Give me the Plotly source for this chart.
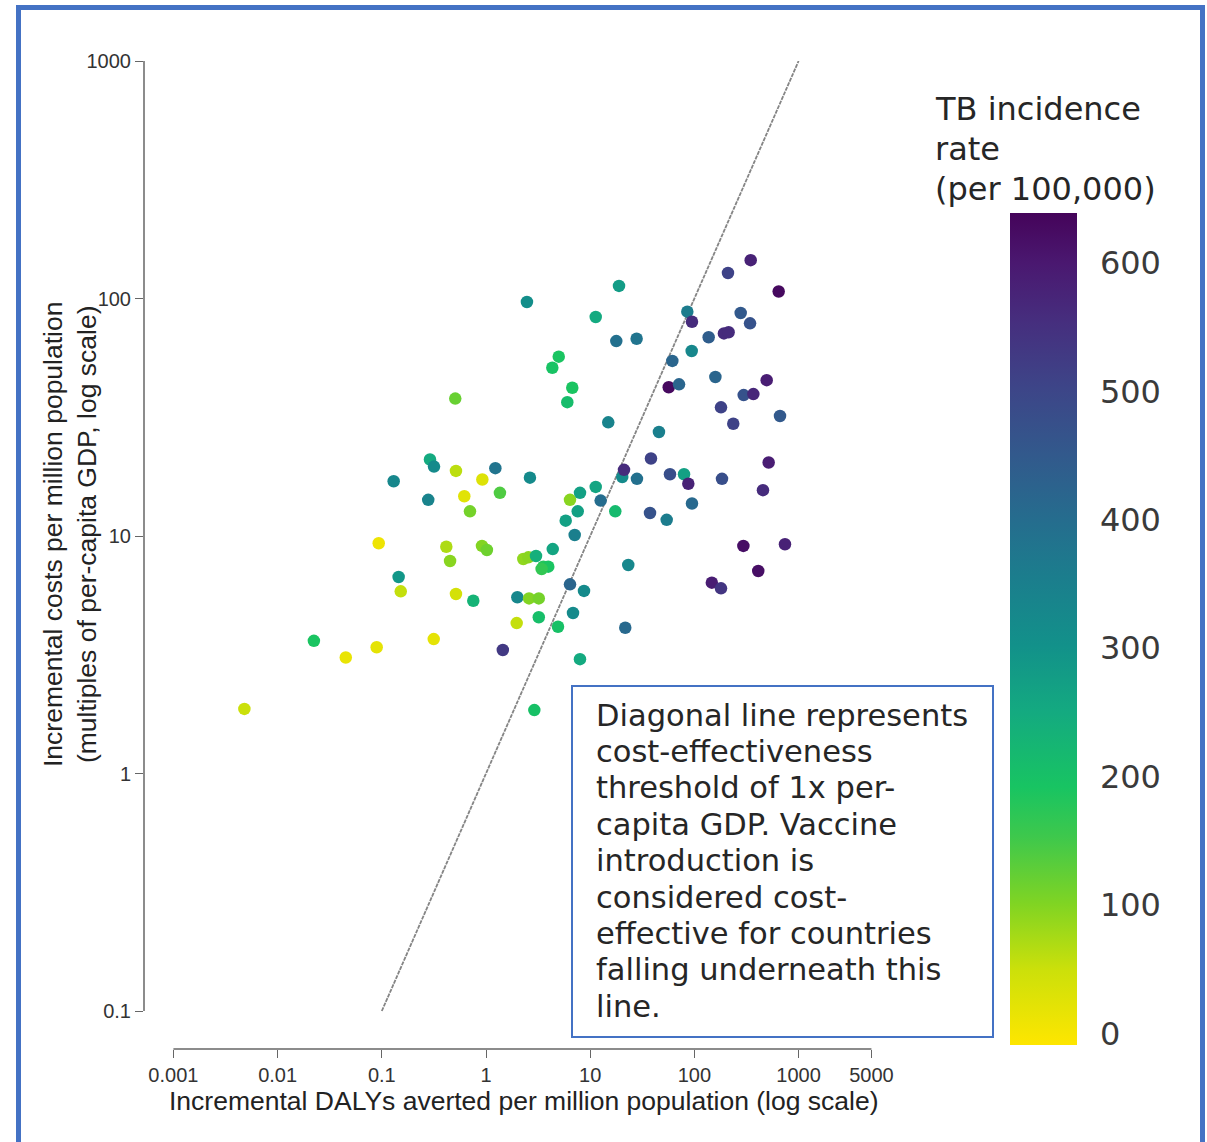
import plotly.graph_objects as go

# Incremental DALYs averted per million population (x) and incremental costs
# per million population in multiples of per-capita GDP (y), one dot per country,
# coloured by TB incidence per 100,000.
dalys_averted = [
    0.0048, 0.0223, 0.0451, 0.0893, 0.0934, 0.130, 0.145, 0.152, 0.279, 0.290,
    0.317, 0.315, 0.416, 0.452, 0.507, 0.515, 0.515, 0.619, 0.702, 0.755,
    0.922, 0.915, 1.02, 1.23, 1.36, 1.45, 1.97, 2.00, 2.28, 2.55,
    2.47, 2.59, 3.21, 2.64, 2.91, 3.02, 3.21, 3.55, 3.96, 3.42,
    4.37, 4.33, 4.99, 4.91, 5.82, 6.03, 6.73, 6.40, 6.40, 6.84,
    7.10, 7.59, 7.98, 7.98, 8.72, 11.3, 11.3, 12.6, 14.9, 17.4,
    17.8, 27.9, 18.9, 20.3, 21.1, 21.7, 23.2, 28.1, 37.5, 38.3,
    45.7, 54.2, 56.7, 71.2, 58.3, 79.5, 87.4, 61.4, 85.5, 94.2,
    94.8, 94.8, 137, 147, 180, 159, 180, 184, 192, 213,
    210, 236, 278, 295, 297, 368, 342, 347, 410, 455,
    494, 516, 644, 663, 740,
]
incremental_costs = [
    1.87, 3.62, 3.08, 3.40, 9.32, 17.0, 6.72, 5.85, 14.2, 21.0,
    19.6, 3.68, 9.01, 7.85, 37.9, 18.8, 5.70, 14.7, 12.7, 5.34,
    17.3, 9.08, 8.73, 19.3, 15.2, 3.31, 4.30, 5.52, 8.00, 8.13,
    96.7, 5.46, 5.46, 17.6, 1.85, 8.24, 4.55, 7.43, 7.43, 7.26,
    8.81, 51.1, 56.9, 4.15, 11.6, 36.6, 42.1, 14.2, 6.26, 4.74,
    10.1, 12.7, 15.2, 3.03, 5.87, 83.6, 16.1, 14.1, 30.1, 12.7,
    66.2, 67.7, 113, 17.7, 19.0, 4.11, 7.55, 17.4, 12.5, 21.2,
    27.4, 11.7, 42.3, 43.5, 18.2, 18.2, 16.6, 54.6, 88.0, 60.1,
    79.8, 13.7, 68.7, 6.36, 6.02, 46.7, 34.8, 17.4, 71.3, 72.1,
    128, 29.7, 86.9, 9.08, 39.2, 39.6, 78.6, 145, 7.12, 15.6,
    45.3, 20.4, 107, 32.0, 9.23,
]
tb_incidence = [
    50, 190, 15, 20, 10, 330, 290, 55, 340, 250,
    320, 20, 70, 95, 120, 60, 40, 25, 110, 230,
    30, 100, 115, 380, 140, 530, 55, 330, 90, 95,
    310, 100, 110, 320, 200, 240, 205, 180, 190, 165,
    260, 195, 190, 200, 270, 210, 190, 95, 420, 320,
    350, 270, 270, 250, 320, 250, 260, 400, 340, 215,
    390, 380, 280, 320, 560, 410, 330, 390, 470, 510,
    350, 360, 630, 420, 480, 270, 580, 420, 360, 330,
    560, 410, 440, 590, 540, 420, 510, 480, 560, 560,
    510, 510, 450, 620, 470, 570, 470, 580, 620, 560,
    590, 590, 630, 450, 580,
]

# 1x per-capita GDP cost-effectiveness threshold (costs == DALYs averted)
threshold_x = [0.1, 1000]
threshold_y = [0.1, 1000]

x_tick_vals = [0.001, 0.01, 0.1, 1, 10, 100, 1000, 5000]
x_tick_text = ["0.001", "0.01", "0.1", "1", "10", "100", "1000", "5000"]
y_tick_vals = [0.1, 1, 10, 100, 1000]
y_tick_text = ["0.1", "1", "10", "100", "1000"]
cbar_tick_vals = [0, 100, 200, 300, 400, 500, 600]

note_lines = [
    "Diagonal line represents",
    "cost-effectiveness",
    "threshold of 1x per-",
    "capita GDP. Vaccine",
    "introduction is",
    "considered cost-",
    "effective for countries",
    "falling underneath this",
    "line.",
]
cbar_title_lines = ["TB incidence", "rate", "(per 100,000)"]

# saturated viridis-like scale, yellow (low) to deep purple (high)
incidence_scale = [
    [0.00, "#fee600"],
    [0.09, "#cce00a"],
    [0.17, "#80d423"],
    [0.25, "#3ec84c"],
    [0.31, "#18c462"],
    [0.40, "#14aa80"],
    [0.48, "#12918a"],
    [0.56, "#1b7e8d"],
    [0.63, "#256d8e"],
    [0.71, "#32598c"],
    [0.79, "#3d4588"],
    [0.87, "#462e7e"],
    [0.94, "#4a1870"],
    [1.00, "#45045a"],
]

W, H = 1207, 1142
L, R, T, B = 144, 880, 61, 1049  # plot area edges in pixels
PW, PH = R - L, B - T


def px(x):
    return (x - L) / PW


def py(y):
    return (B - y) / PH


axis_font = dict(family="Liberation Sans, Arial, sans-serif", size=20, color="#333333")
label_font = dict(family="Liberation Sans, Arial, sans-serif", size=26.5, color="#222222")
wide_family = "DejaVu Sans, Verdana, sans-serif"
note_font = dict(family=wide_family, size=30.5, color="#262626")
blue = "#4472c4"
axis_grey = "#666666"

fig = go.Figure()

fig.add_trace(go.Scatter(
    x=threshold_x, y=threshold_y, mode="lines",
    line=dict(color="#858585", width=1.8, dash="4px,1px"),
    hoverinfo="skip", showlegend=False,
))

fig.add_trace(go.Scatter(
    x=dalys_averted, y=incremental_costs, mode="markers",
    marker=dict(
        size=12.5,
        color=tb_incidence,
        colorscale=incidence_scale,
        cmin=-9, cmax=639,
        line=dict(width=0),
        colorbar=dict(
            thickness=67, thicknessmode="pixels",
            len=832, lenmode="pixels",
            x=px(1010), xanchor="left", xpad=0,
            y=py(629), yanchor="middle", ypad=0,
            outlinewidth=0,
            tickvals=cbar_tick_vals,
            ticks="outside", ticklen=17, tickcolor="rgba(0,0,0,0)",
            tickfont=dict(family=wide_family, size=32, color="#3a3a3a"),
        ),
    ),
    showlegend=False,
))

shapes = [
    # x axis line spanning the labelled range
    dict(type="line", xref="x", yref="paper", x0=0.001, x1=5000, y0=0, y1=0,
         line=dict(color=axis_grey, width=1.5)),
    # y axis line spanning the labelled range
    dict(type="line", xref="paper", yref="y", x0=0, x1=0, y0=0.1, y1=1000,
         line=dict(color=axis_grey, width=1.5)),
    # note box
    dict(type="rect", xref="paper", yref="paper",
         x0=px(572), x1=px(993), y0=py(686), y1=py(1037),
         line=dict(color=blue, width=2), fillcolor="white", layer="below"),
    # outer frame
    dict(type="rect", xref="paper", yref="paper",
         x0=px(18.5), x1=px(1202.5), y0=py(7.5), y1=py(1170),
         line=dict(color=blue, width=5), fillcolor="rgba(0,0,0,0)"),
]

annotations = []
for i, line in enumerate(note_lines):
    annotations.append(dict(
        xref="paper", yref="paper", x=px(594), y=py(715 + i * 36.4),
        xanchor="left", yanchor="middle", align="left", showarrow=False,
        text=line, font=note_font,
    ))
for i, line in enumerate(cbar_title_lines):
    annotations.append(dict(
        xref="paper", yref="paper", x=px(933), y=py(109 + i * 40),
        xanchor="left", yanchor="middle", align="left", showarrow=False,
        text=line, font=dict(family=wide_family, size=32, color="#262626"),
    ))
annotations += [
    dict(
        xref="paper", yref="paper", x=px(523), y=py(1101),
        xanchor="center", yanchor="middle", showarrow=False,
        text="Incremental DALYs averted per million population (log scale)",
        font=label_font,
    ),
    dict(
        xref="paper", yref="paper", x=px(70), y=py(535),
        xanchor="center", yanchor="middle", showarrow=False, textangle=-90,
        text="Incremental costs per million population<br>(multiples of per-capita GDP, log scale)",
        font=label_font,
    ),
]

fig.update_layout(
    width=W, height=H,
    margin=dict(l=L, r=W - R, t=T, b=H - B, autoexpand=False),
    paper_bgcolor="white", plot_bgcolor="white",
    shapes=shapes, annotations=annotations,
    xaxis=dict(
        type="log", range=[-3.2822, 3.7812],
        showgrid=False, zeroline=False, showline=False,
        tickvals=x_tick_vals, ticktext=x_tick_text,
        ticks="outside", ticklen=8, tickwidth=1.3, tickcolor=axis_grey,
        tickfont=axis_font,
    ),
    yaxis=dict(
        type="log", range=[-1.16, 3.0],
        showgrid=False, zeroline=False, showline=False,
        tickvals=y_tick_vals, ticktext=y_tick_text,
        ticks="outside", ticklen=8, tickwidth=1.3, tickcolor=axis_grey,
        tickfont=axis_font,
    ),
)

fig.write_html("out.html")
